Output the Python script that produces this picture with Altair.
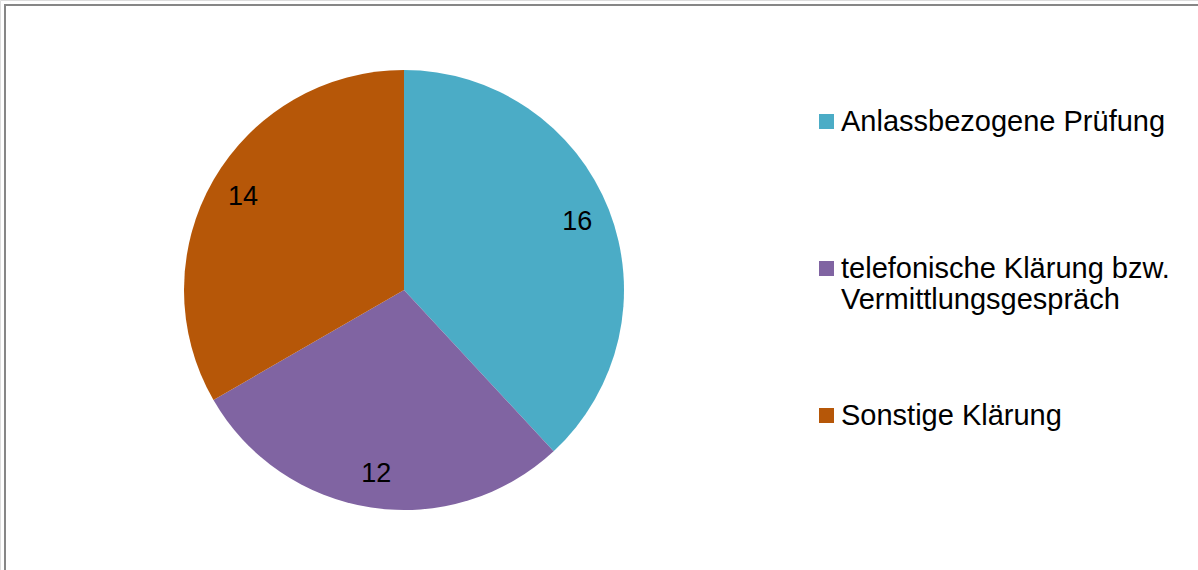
import altair as alt
import pandas as pd

categories = ["Anlassbezogene Prüfung", "telefonische Klärung bzw. Vermittlungsgespräch", "Sonstige Klärung"]
values = [16, 12, 14]
order = [0, 1, 2]
colors = ["#4BACC6", "#8064A2", "#B65708"]

df = pd.DataFrame({"Kategorie": categories, "Anzahl": values, "ord": order})

FONT = "Liberation Sans"

color_scale = alt.Scale(domain=categories, range=colors)

label_expr = (
    "datum.label == 'telefonische Klärung bzw. Vermittlungsgespräch' ? "
    "['telefonische Klärung bzw.', 'Vermittlungsgespräch'] : "
    "datum.label == 'Anlassbezogene Prüfung' ? ['Anlassbezogene Prüfung', ''] : datum.label"
)

base = alt.Chart(df).encode(
    theta=alt.Theta("Anzahl:Q", stack=True),
    order=alt.Order("ord:Q"),
    x=alt.value(404),
    y=alt.value(290),
)

pie = base.mark_arc(outerRadius=220).encode(
    color=alt.Color(
        "Kategorie:N",
        scale=color_scale,
        sort=categories,
        legend=alt.Legend(
            orient="none",
            legendX=812,
            legendY=107,
            title=None,
            symbolType="square",
            symbolSize=225,
            symbolStrokeWidth=0,
            labelFont=FONT,
            labelFontSize=29,
            labelColor="#000000",
            labelOffset=0,
            labelLimit=500,
            rowPadding=86,
            padding=0,
            labelExpr=label_expr,
        ),
    )
)

labels = base.mark_text(radius=186, font=FONT, fontSize=27, color="#000000").encode(
    text=alt.Text("Anzahl:Q")
)

frame_df = pd.DataFrame({"k": [0]})
top_line = alt.Chart(frame_df).mark_rule(color="#868686", strokeWidth=2).encode(
    x=alt.value(4), x2=alt.value(1198), y=alt.value(5)
)
left_line = alt.Chart(frame_df).mark_rule(color="#868686", strokeWidth=2).encode(
    x=alt.value(5), y=alt.value(4), y2=alt.value(570)
)

chart = (
    alt.layer(pie, labels, top_line, left_line)
    .properties(width=1198, height=570, padding=0, autosize=alt.AutoSizeParams(type="none"))
    .configure_view(stroke=None)
    .configure(background="#ffffff")
)

chart.save("out.html", embed_options={"renderer": "svg", "actions": False})
